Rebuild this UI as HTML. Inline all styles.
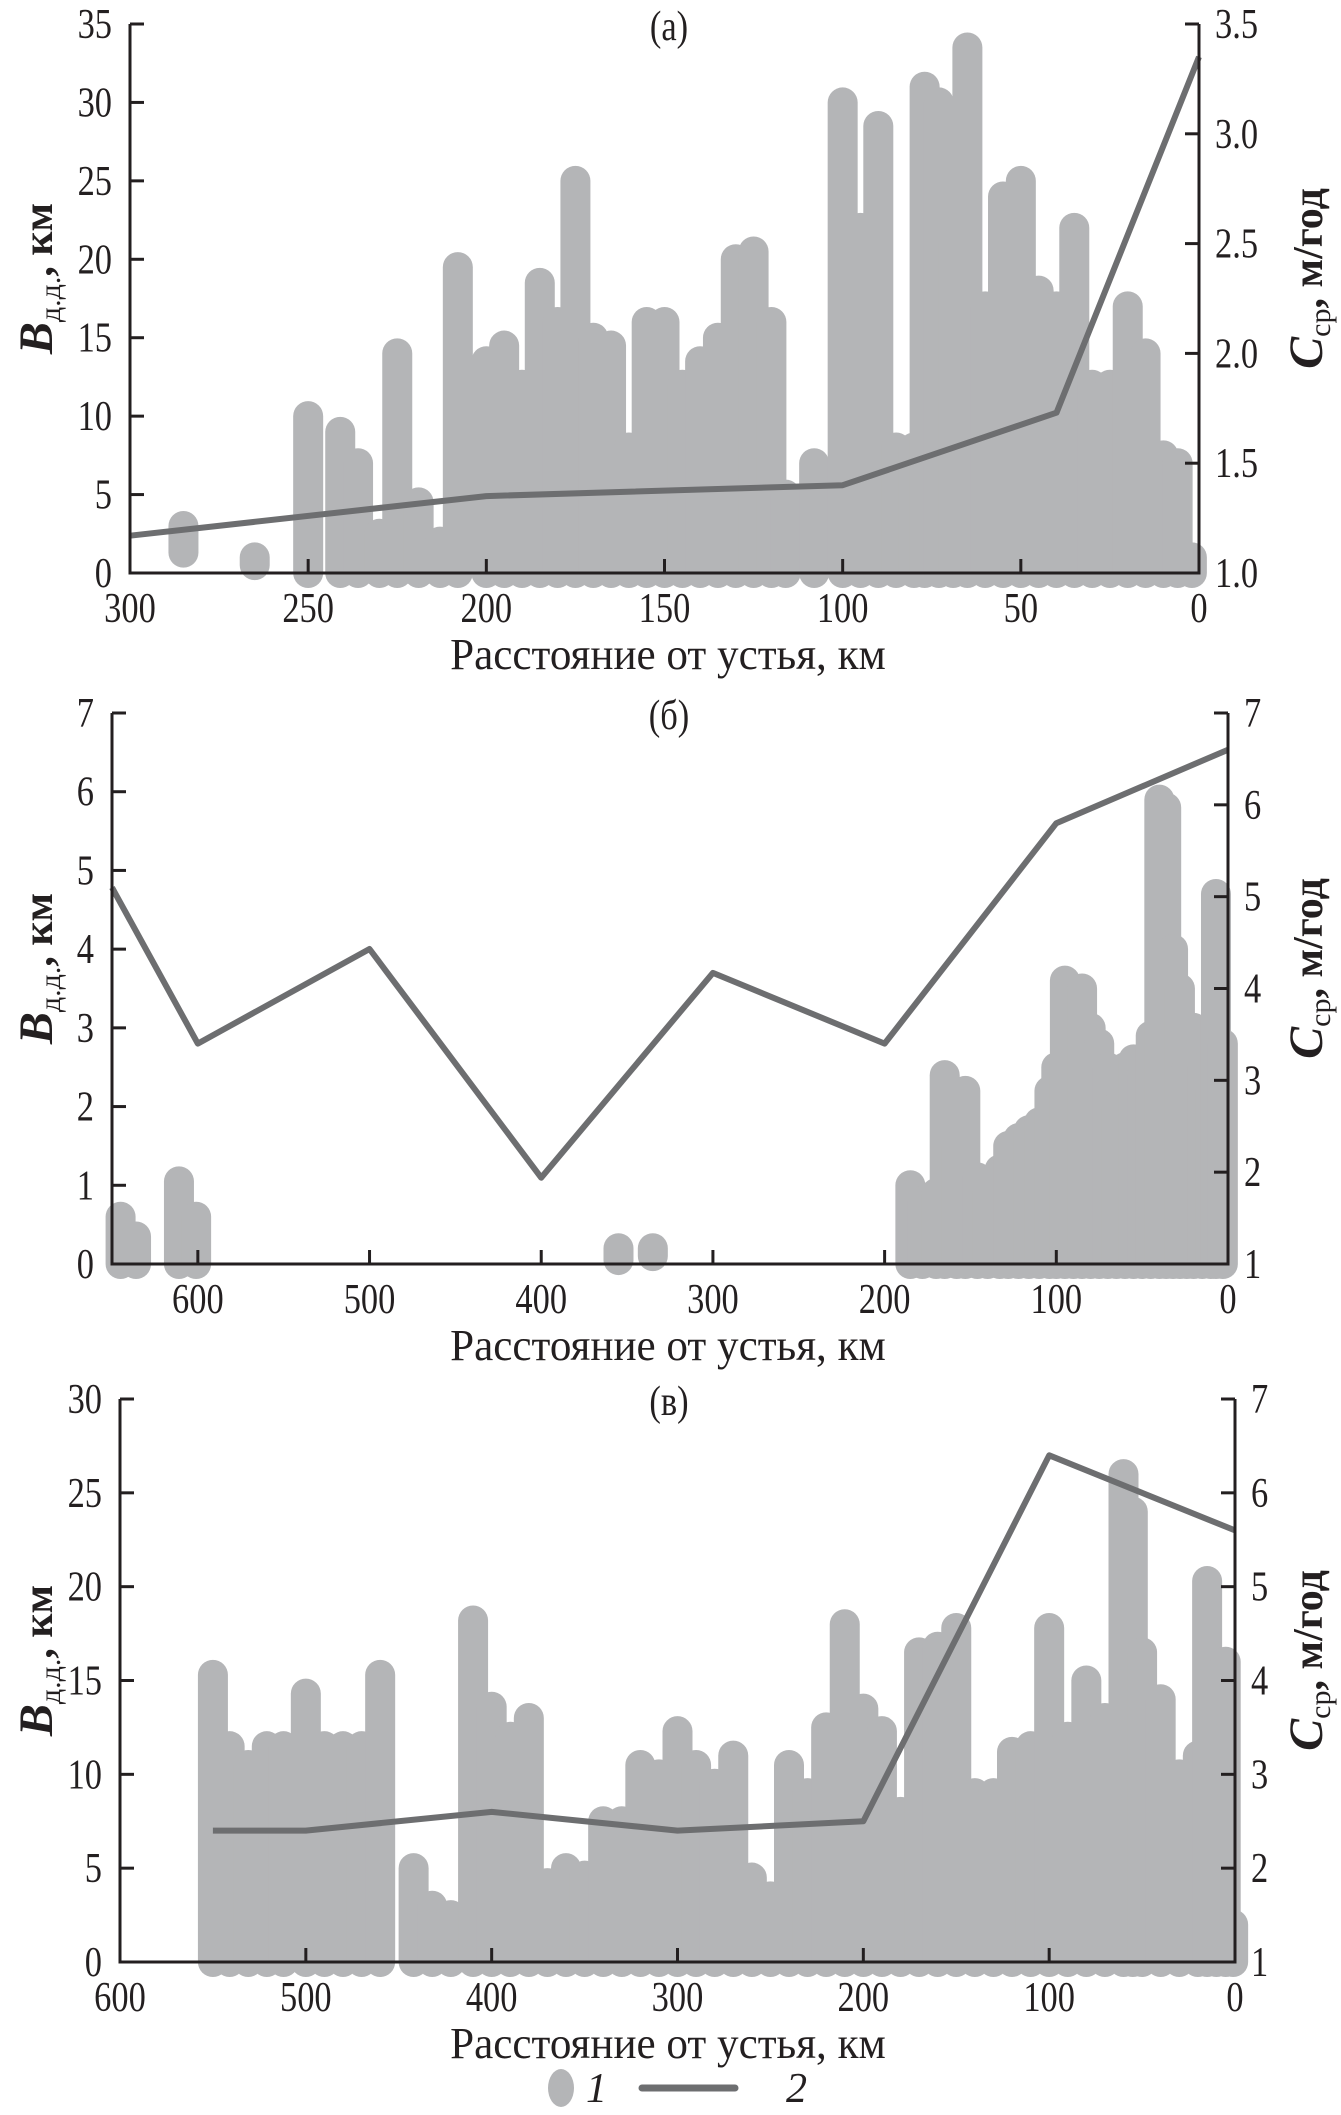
<!DOCTYPE html>
<html><head><meta charset="utf-8">
<style>
html,body{margin:0;padding:0;background:#fff;}
svg{display:block;}
text{font-family:"Liberation Serif","DejaVu Serif",serif;fill:#231f20;}
</style></head>
<body>
<svg id="fig" width="1341" height="2115" viewBox="0 0 1341 2115" xmlns="http://www.w3.org/2000/svg"></svg>
<script>
// ---------- Panel (а) data ----------
const aStackKm   = [285,265,250,241,236,230,225,219,213,208,200,195,190,185,180,175,170,165,160,155,150,145,140,135,130,125,120,116,108,100,95,90,85,80,77,73,69,65,60,55,50,45,40,35,30,25,20,15,10,6,2];
const aStackTop  = [3,1,10,9,7,2.5,14,4.5,2,19.5,13.5,14.5,12,18.5,16,25,15,14.5,8,16,16,12,13.5,15,20,20.5,16,5,7,30,22,28.5,8,8,31,30,21,33.5,17,24,25,18,17,22,12,12,17,14,7.5,7,1];
const aStackBot  = [1.3,0.5,0,0,0,0,0,0,0,0,0,0,0,0,0,0,0,0,0,0,0,0,0,0,0,0,0,0,0,0,0,0,0,0,0,0,0,0,0,0,0,0,0,0,0,0,0,0,0,0,0];
const aLineKm    = [300,200,100,40,0];
const aLineC     = [1.17,1.35,1.40,1.73,3.35];
const aXTicks    = [300,250,200,150,100,50,0];
const aYTicks    = [0,5,10,15,20,25,30,35];
const aRTicks    = ["1.0","1.5","2.0","2.5","3.0","3.5"];

// ---------- Panel (б) data ----------
const bStackKm   = [645,636,611,601,355,335,185,178,170,165,158,153,146,140,133,128,122,116,110,104,100,95,90,85,80,75,70,65,60,55,50,45,40,36,32,28,24,20,15,10,7,3];
const bStackTop  = [0.6,0.35,1.05,0.6,0.2,0.2,1.0,0.8,0.9,2.4,1.5,2.2,1.1,0.9,1.2,1.5,1.6,1.7,1.8,2.2,2.5,3.6,3.0,3.5,3.0,2.8,2.5,2.0,2.5,2.6,2.4,2.9,5.9,5.8,4.0,3.5,2.5,3.0,2.5,2.2,4.7,2.8];
const bStackBot  = [0,0,0,0,0.05,0.1,0,0,0,0,0,0,0,0,0,0,0,0,0,0,0,0,0,0,0,0,0,0,0,0,0,0,0,0,0,0,0,0,0,0,0,0];
const bLineKm    = [650,600,500,400,300,200,100,0];
const bLineC     = [5.1,3.4,4.43,1.94,4.17,3.4,5.8,6.6];
const bXTicks    = [600,500,400,300,200,100,0];
const bYTicks    = [0,1,2,3,4,5,6,7];
const bRTicks    = ["1","2","3","4","5","6","7"];

// ---------- Panel (в) data ----------
const cStackKm   = [550,541,531,521,512,500,490,480,470,460,442,432,422,410,400,390,380,370,360,350,340,330,320,310,300,290,280,270,260,250,240,230,220,210,200,190,180,170,160,150,140,130,120,110,100,90,80,70,60,55,50,40,30,20,15,10,5,1];
const cStackTop  = [15.3,11.5,10.5,11.5,11.5,14.3,11.5,11.5,11.5,15.3,5,3,2.5,18.2,13.6,12,13,4.2,5,4.6,7.5,7.5,10.5,10,12.3,10.5,9.5,11,4.5,3.5,10.5,9,12.5,18,13.5,12.3,8,16.5,16.8,17.8,9,9,11.2,11.5,17.8,12,15,13,26,24,16.5,14,10,11,20.3,16,16,2];
const cStackBot  = [0,0,0,0,0,0,0,0,0,0,0,0,0,0,0,0,0,0,0,0,0,0,0,0,0,0,0,0,0,0,0,0,0,0,0,0,0,0,0,0,0,0,0,0,0,0,0,0,0,0,0,0,0,0,0,0,0,0];
const cLineKm    = [550,500,400,300,200,100,0];
const cLineC     = [2.4,2.4,2.6,2.4,2.5,6.4,5.6];
const cXTicks    = [600,500,400,300,200,100,0];
const cYTicks    = [0,5,10,15,20,25,30];
const cRTicks    = ["1","2","3","4","5","6","7"];

const NS = "http://www.w3.org/2000/svg";
const svg = document.getElementById('fig');
function mk(tag, attrs, parent){
  const e = document.createElementNS(NS, tag);
  for (const k in attrs) e.setAttribute(k, attrs[k]);
  (parent||svg).appendChild(e);
  return e;
}
function txt(str, x, y, anchor, size, parent, sx){
  const t = mk('text', {x:0, y:0, 'text-anchor':anchor, 'font-size':size,
    transform:'translate('+x+','+y+') scale('+(sx||0.82)+',1)'}, parent);
  t.textContent = str;
  return t;
}

function panel(cfg){
  const g = mk('g', {});
  
  
  const L=cfg.left, R=cfg.right, T=cfg.top, B=cfg.bottom;
  const xs = km => R - (km/cfg.kmMax)*(R-L);
  const ys = v => B - (v/cfg.yMax)*(B-T);
  const yr = c => B - ((c-cfg.cMin)/(cfg.cMax-cfg.cMin))*(B-T);
  const r = 15;
  const sg = mk('g', {fill:'#b4b5b7'}, g);
  
  
  for (let i=0;i<cfg.km.length;i++){
    const x = xs(cfg.km[i]);
    const yt = ys(cfg.top_[i]) - r;
    const yb = ys(cfg.bot[i]) + r;
    const rc = mk('rect', {x:x-r, y:yt, width:2*r, height:Math.max(2*r, yb-yt), rx:r, ry:r}, sg);
    
    
  }
  let d='';
  for (let i=0;i<cfg.lkm.length;i++) d += (i?'L':'M') + xs(cfg.lkm[i]).toFixed(1)+','+yr(cfg.lc[i]).toFixed(1);
  const ln = mk('path', {d:d, fill:'none', stroke:'#6d6e70', 'stroke-width':6, 'stroke-linejoin':'round'}, g);
  
  
  const ax = mk('path', {d:'M'+L+','+T+'L'+L+','+B+'L'+R+','+B+'L'+R+','+T, fill:'none', stroke:'#231f20', 'stroke-width':3}, g);
  
  
  cfg.yt.forEach(v=>{
    const y = ys(v);
    mk('line', {x1:L, x2:L+14, y1:y, y2:y, stroke:'#231f20', 'stroke-width':3}, g);
    const t = txt(String(v), L-18, y+14, 'end', 42, g);
    
    
  });
  cfg.rt.forEach((s,i)=>{
    const y = B - i*(B-T)/(cfg.rt.length-1);
    mk('line', {x1:R-14, x2:R, y1:y, y2:y, stroke:'#231f20', 'stroke-width':3}, g);
    const t = txt(s, R+16, y+14, 'start', 42, g);
    
    
  });
  cfg.xt.forEach(v=>{
    const x = xs(v);
    mk('line', {x1:x, x2:x, y1:B, y2:B-14, stroke:'#231f20', 'stroke-width':3}, g);
    const t = txt(String(v), x, B+49, 'middle', 42, g);
    
    
  });
  const tt = txt(cfg.title, 669, T+16, 'middle', 42, g);
  
  
  const xt = txt('Расстояние от устья, км', 668, B+96, 'middle', 44, g, 0.98);
  
  
  const cy = (T+B)/2 - 20;
  const yl = mk('text', {transform:'translate(52,'+cy+') rotate(-90)', 'text-anchor':'middle', 'font-size':42}, g);
  
  
  yl.innerHTML = '<tspan font-weight="bold" font-style="italic" font-size="48">B</tspan><tspan font-size="30" dy="8">д.д.</tspan><tspan dy="-8" font-weight="bold">, км</tspan>';
  const yr2 = mk('text', {transform:'translate(1322,'+((T+B)/2-20)+') rotate(-90)', 'text-anchor':'middle', 'font-size':42}, g);
  
  
  yr2.innerHTML = '<tspan font-weight="bold" font-style="italic" font-size="48">C</tspan><tspan font-size="30" dy="8">ср</tspan><tspan dy="-8" font-weight="bold">, м/год</tspan>';
}

panel({name:'panel-a', title:'(а)', left:130, right:1199, top:24, bottom:573, kmMax:300, yMax:35, cMin:1, cMax:3.5,
  km:aStackKm, top_:aStackTop, bot:aStackBot, lkm:aLineKm, lc:aLineC, xt:aXTicks, yt:aYTicks, rt:aRTicks});
panel({name:'panel-b', title:'(б)', left:112, right:1228, top:713, bottom:1264, kmMax:650, yMax:7, cMin:1, cMax:7,
  km:bStackKm, top_:bStackTop, bot:bStackBot, lkm:bLineKm, lc:bLineC, xt:bXTicks, yt:bYTicks, rt:bRTicks});
panel({name:'panel-c', title:'(в)', left:120, right:1235, top:1399, bottom:1962, kmMax:600, yMax:30, cMin:1, cMax:7,
  km:cStackKm, top_:cStackTop, bot:cStackBot, lkm:cLineKm, lc:cLineC, xt:cXTicks, yt:cYTicks, rt:cRTicks});

const lg = mk('g', {});


const ld = mk('ellipse', {cx:561, cy:2088, rx:13, ry:19, fill:'#b4b5b7'}, lg);


const l1 = mk('text', {x:586, y:2102, 'font-size':42, 'font-style':'italic'}, lg);
l1.textContent = '1';


const ll = mk('line', {x1:642, x2:735, y1:2088, y2:2088, stroke:'#6d6e70', 'stroke-width':7, 'stroke-linecap':'round'}, lg);


const l2 = mk('text', {x:786, y:2102, 'font-size':42, 'font-style':'italic'}, lg);
l2.textContent = '2';


</script>
</body></html>
